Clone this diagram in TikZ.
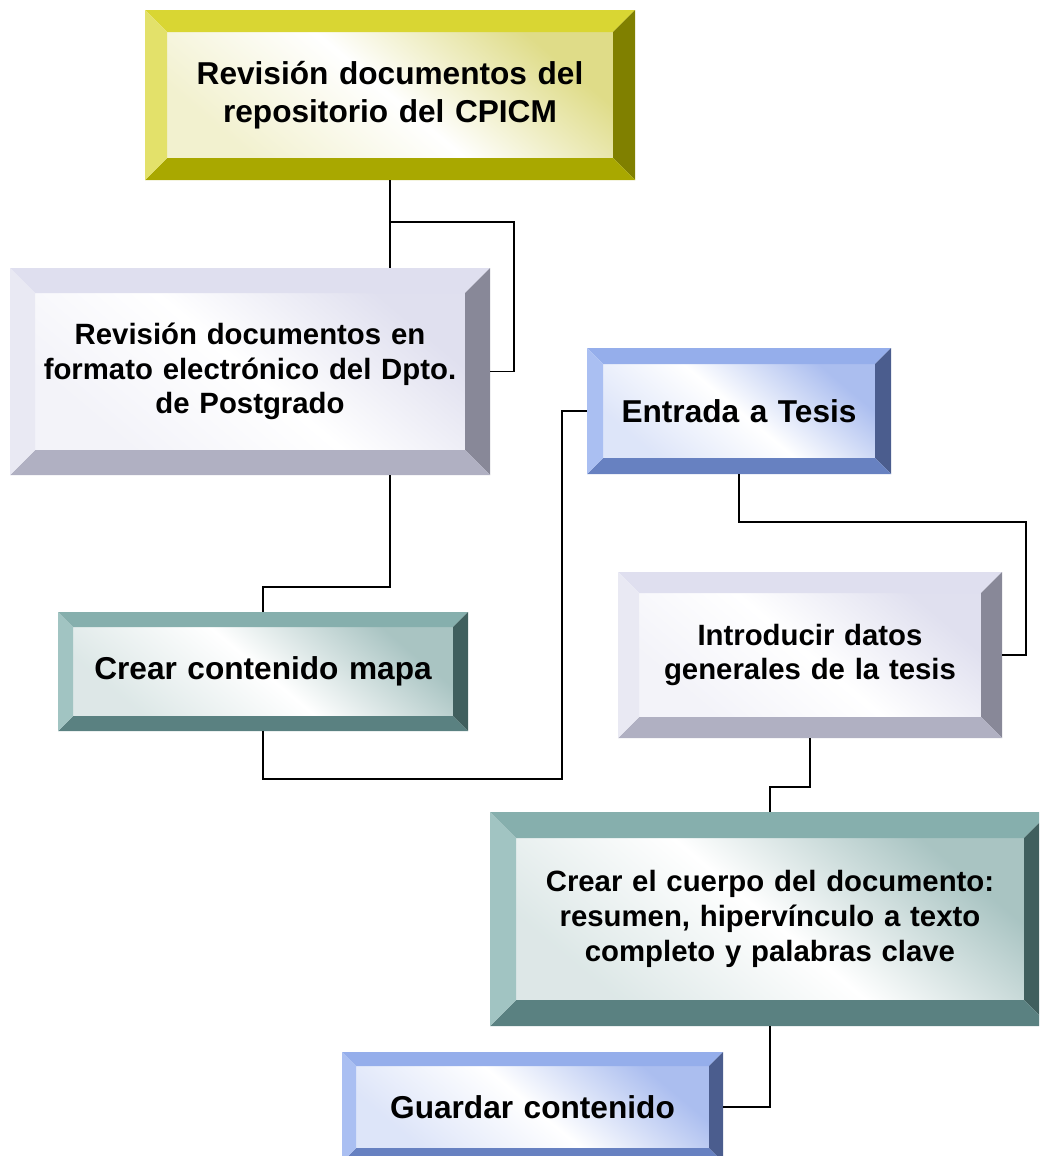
\documentclass[tikz,border=0pt]{standalone}
\usepackage{fontspec}
\setmainfont{Liberation Sans}
\usetikzlibrary{calc}

\newdimen\pxu \pxu=0.02cm

% bevel colours: T top, L left, R right, B bottom, I inner tint
\definecolor{yelT}{HTML}{D9D633}
\definecolor{yelL}{HTML}{E3E16A}
\definecolor{yelR}{HTML}{808000}
\definecolor{yelB}{HTML}{A9A800}
\definecolor{yelI}{HTML}{D4D060}
\definecolor{lavT}{HTML}{DFDFEF}
\definecolor{lavL}{HTML}{E9E9F3}
\definecolor{lavR}{HTML}{888898}
\definecolor{lavB}{HTML}{B0B0C2}
\definecolor{lavI}{HTML}{D6D6EA}
\definecolor{bluT}{HTML}{95AEEB}
\definecolor{bluL}{HTML}{AABFF2}
\definecolor{bluR}{HTML}{4B5D8E}
\definecolor{bluB}{HTML}{6781C1}
\definecolor{bluI}{HTML}{8FA8EA}
\definecolor{teaT}{HTML}{86AFAD}
\definecolor{teaL}{HTML}{A1C4C2}
\definecolor{teaR}{HTML}{405F5E}
\definecolor{teaB}{HTML}{5A8181}
\definecolor{teaI}{HTML}{8CB0AE}

\tikzset{
    bigtxt/.style={font=\bfseries\fontsize{18}{21.5}\selectfont},
    smalltxt/.style={font=\bfseries\fontsize{16.7}{19.8}\selectfont},
    bevbox/.style n args={4}{rectangle, inner sep=0pt, align=center,
        minimum width=#3\pxu, minimum height=#4\pxu,
        path picture={
            \coordinate (o1) at (path picture bounding box.north west);
            \coordinate (o2) at (path picture bounding box.north east);
            \coordinate (o3) at (path picture bounding box.south east);
            \coordinate (o4) at (path picture bounding box.south west);
            \coordinate (i1) at ([shift={(#2\pxu,-#2\pxu)}]o1);
            \coordinate (i2) at ([shift={(-#2\pxu,-#2\pxu)}]o2);
            \coordinate (i3) at ([shift={(-#2\pxu,#2\pxu)}]o3);
            \coordinate (i4) at ([shift={(#2\pxu,#2\pxu)}]o4);
            \shade[top color=#1I!75!white, bottom color=#1I!30!white, middle color=white, shading angle=-40] (i1) rectangle (i3);
            \fill[#1T] (o1) -- (o2) -- (i2) -- (i1) -- cycle;
            \fill[#1R] (o2) -- (o3) -- (i3) -- (i2) -- cycle;
            \fill[#1B] (o3) -- (o4) -- (i4) -- (i3) -- cycle;
            \fill[#1L] (o4) -- (o1) -- (i1) -- (i4) -- cycle;
        }},
    link/.style={draw, line width=1pt}
}

\begin{document}
\begin{tikzpicture}[x=0.02cm, y=-0.02cm]
    \clip (0,0) rectangle (1039,1156);

    \node [bevbox={yel}{22}{490}{170}, bigtxt, text width=430\pxu] (b1) at (390,95) {Revisión documentos del\\repositorio del CPICM};
    \node [bevbox={lav}{25}{480}{207}, smalltxt, text width=420\pxu] (b2) at (250,371.5) {Revisión documentos en\\formato electrónico del Dpto.\\de Postgrado};
    \node [bevbox={blu}{16}{304}{126}, bigtxt, text width=270\pxu] (b3) at (739,411) {Entrada a Tesis};
    \node [bevbox={tea}{15}{410}{119}, bigtxt, text width=380\pxu] (b4) at (263,671.5) {Crear contenido mapa};
    \node [bevbox={lav}{21}{384}{166}, smalltxt, text width=330\pxu] (b5) at (810,655) {Introducir datos\\generales de la tesis};
    \node [bevbox={tea}{26}{560}{214}, smalltxt, text width=500\pxu] (b6) at (770,919) {Crear el cuerpo del documento:\\resumen, hipervínculo a texto\\completo y palabras clave};
    \node [bevbox={blu}{14}{381}{110}, bigtxt, text width=340\pxu] (b7) at (532.5,1107) {Guardar contenido};

    \path [link] (b1.south) -- (b1.south |- b2.north);
    \path [link] ($(b1.south)+(0,42)$) -| ($(b2.east)+(24,0)$) -- (b2.east);
    \path [link] (b1.south |- b2.south) -- ++(0,112) -| (b4.north);
    \path [link] (b4.south) -- ++(0,48) -| ($(b3.west)+(-25,0)$) -- (b3.west);
    \path [link] (b3.south) -- ++(0,48) -| ($(b5.east)+(24,0)$) -- (b5.east);
    \path [link] (b5.south) -- ++(0,49) -| (b6.north);
    \path [link] (b6.south) |- (b7.east);
\end{tikzpicture}
\end{document}
